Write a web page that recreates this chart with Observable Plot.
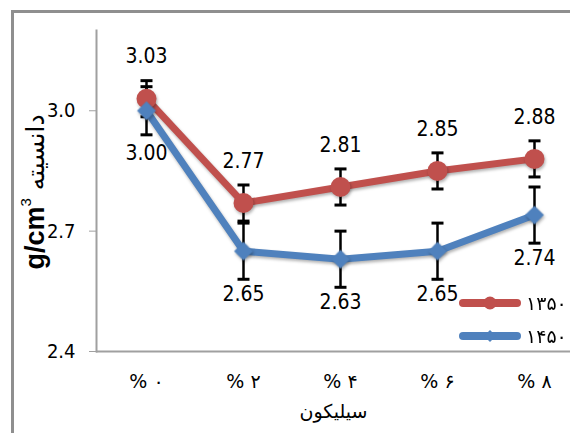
<!DOCTYPE html>
<html><head><meta charset="utf-8">
<script src="https://cdn.jsdelivr.net/npm/d3@7"></script>
<script src="https://cdn.jsdelivr.net/npm/@observablehq/plot@0.6"></script>
<style>
body{margin:0;background:#fff;}
#wrap{position:relative;width:570px;height:433px;overflow:hidden;background:#fff;}
#border{position:absolute;left:11px;top:10px;width:700px;height:600px;border:3px solid #8f8f8f;}
#chart{position:absolute;left:0;top:0;}
#legend{position:absolute;left:0;top:0;}
</style></head><body>
<div id="wrap"><div id="border"></div><div id="chart"></div><div id="legend"></div></div>
<script>
const categories = ["0","2","4","6","8"];
const tickLabels = ["% ۰","% ۲","% ۴","% ۶","% ۸"];
const seriesNames = ["۱۳۵۰","۱۴۵۰"];
const colors = ["#C0504D","#4F81BD"];
const density1350 = [3.03,2.77,2.81,2.85,2.88];
const density1450 = [3.00,2.65,2.63,2.65,2.74];
const err1350 = [0.045,0.045,0.045,0.045,0.045];
const err1450 = [0.06,0.07,0.07,0.07,0.07];
const yTicks = [2.4,2.7,3.0];
const xTitle = "سیلیکون";
const yTitleUnit = "g/cm";
const yTitleWord = "دانسیته";

const numFont = "'Liberation Sans Narrow','DejaVu Sans Condensed','Liberation Sans',sans-serif";

const rows = [];
[density1350, density1450].forEach((vals, s) => {
  const errs = s === 0 ? err1350 : err1450;
  vals.forEach((v, i) => rows.push({series: seriesNames[s], s, cat: categories[i], v, e: errs[i]}));
});
const r1 = rows.filter(d => d.s === 0), r2 = rows.filter(d => d.s === 1);

const capSymbol = {draw(ctx, size){ const w = Math.sqrt(size/Math.PI); ctx.moveTo(-w,0); ctx.lineTo(w,0); }};

const chart = Plot.plot({
  width: 570, height: 433,
  marginLeft: 96, marginRight: 0, marginTop: 30, marginBottom: 82,
  style: {background: "transparent", fontFamily: numFont, color: "#000"},
  x: {type: "point", domain: categories, range: [96, 584], padding: 0.5},
  y: {domain: [2.4, 3.2]},
  marks: [
    Plot.frame({anchor: "left", stroke: "#a0a0a0", strokeWidth: 2}),
    Plot.ruleY([2.4], {stroke: "#a0a0a0", strokeWidth: 2}),
    Plot.axisY({ticks: yTicks, tickFormat: d => d.toFixed(1), tickSize: 7, tickPadding: 14, fontSize: 20, stroke: "#a0a0a0", fill: "#000", label: null}),
    Plot.axisX({tickSize: 0, tickPadding: 23, tickFormat: d => tickLabels[categories.indexOf(d)], fontSize: 19, fill: "#000", label: xTitle, labelAnchor: "center", labelOffset: 66, fontFamily: "'DejaVu Sans',sans-serif"}),
    Plot.ruleX(rows, {x: "cat", y1: d => d.v - d.e, y2: d => d.v + d.e, stroke: "#000", strokeWidth: 2.5}),
    Plot.dot(rows, {x: "cat", y: d => d.v - d.e, symbol: capSymbol, r: 6, stroke: "#000", strokeWidth: 3, fill: "none"}),
    Plot.dot(rows, {x: "cat", y: d => d.v + d.e, symbol: capSymbol, r: 6, stroke: "#000", strokeWidth: 3, fill: "none"}),
    Plot.line(r1, {x: "cat", y: "v", stroke: colors[0], strokeWidth: 7}),
    Plot.dot(r1, {x: "cat", y: "v", r: 10, fill: colors[0], symbol: "circle"}),
    Plot.line(r2, {x: "cat", y: "v", stroke: colors[1], strokeWidth: 7}),
    Plot.dot(r2, {x: "cat", y: "v", r: 8.5, fill: colors[1], symbol: "diamond2"}),
    Plot.text(r1, {x: "cat", y: "v", text: d => d.v.toFixed(2), dy: -42, fontSize: 21, fill: "#000"}),
    Plot.text(r2, {x: "cat", y: "v", text: d => d.v.toFixed(2), dy: 43, fontSize: 21, fill: "#000"})
  ]
});
document.getElementById("chart").appendChild(chart);

const svg = d3.select(chart);
svg.selectAll('g[aria-label="line"]').style("filter", "drop-shadow(1.5px 2px 1.5px rgba(0,0,0,0.3))");
svg.selectAll('g[aria-label="dot"]').filter(function(){ return this.getAttribute("fill") !== "none"; })
  .style("filter", "drop-shadow(1.5px 2px 1.5px rgba(0,0,0,0.3))");

// y-axis title
const yt = svg.append("text")
  .attr("transform", "translate(35,192) rotate(-90)")
  .attr("text-anchor", "middle").attr("dominant-baseline", "central").attr("fill", "#000");
yt.append("tspan").attr("font-family", "'Liberation Sans',Arial,sans-serif").attr("font-weight", "bold").attr("font-size", 27).text(yTitleUnit);
yt.append("tspan").attr("font-family", "'Liberation Sans',Arial,sans-serif").attr("font-size", 15).attr("dy", -10).text("3");
yt.append("tspan").attr("font-family", "'DejaVu Sans',sans-serif").attr("font-size", 25).attr("dy", 10).text(" " + yTitleWord);

// legend
const lg = d3.select("#legend").append("svg").attr("width", 570).attr("height", 433);
const legendRows = [303, 336];
seriesNames.forEach((name, i) => {
  const g = lg.append("g").attr("transform", `translate(0,${legendRows[i]})`);
  g.append("line").attr("x1", 463).attr("x2", 517).attr("stroke", colors[i]).attr("stroke-width", 8).attr("stroke-linecap", "round");
  g.append("path").attr("transform", "translate(490,0)").attr("fill", colors[i])
    .attr("d", d3.symbol(i === 0 ? d3.symbolCircle : d3.symbolDiamond2, i === 0 ? 130 : 90)());
  g.append("text").attr("x", 526).attr("dominant-baseline", "central").attr("font-family", "'DejaVu Sans',sans-serif").attr("font-size", 19).attr("fill", "#000").text(name);
});
</script>
</body></html>
